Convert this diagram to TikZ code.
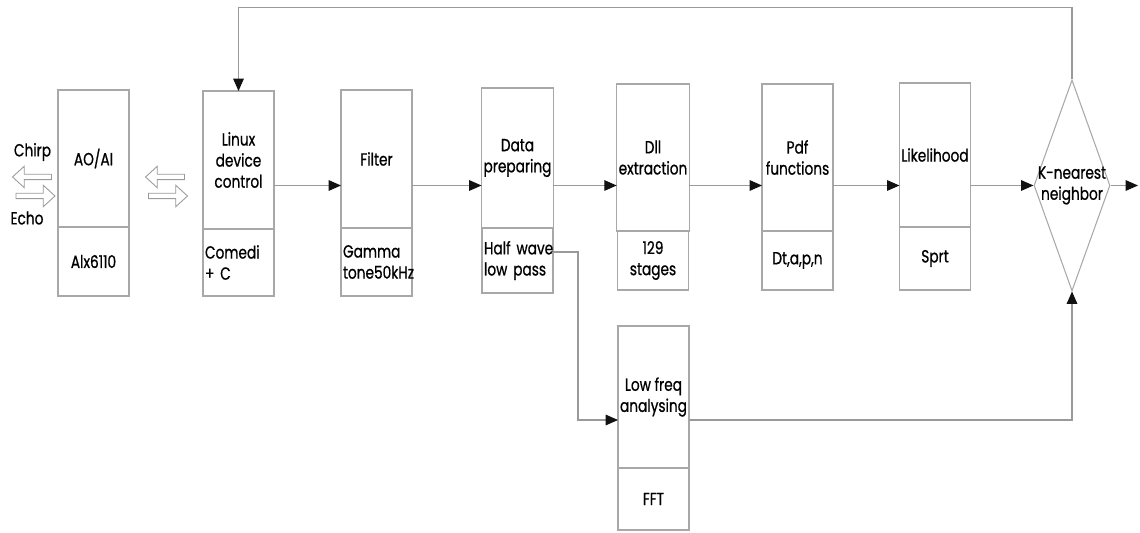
\documentclass[tikz,border=0pt]{standalone}
\usepackage{fontspec}
\setsansfont[FakeStretch=0.78, FakeBold=0.8]{Poppins}
\usetikzlibrary{arrows.meta, positioning, shapes.geometric, shapes.arrows}
\definecolor{framegray}{HTML}{A8A8A8}
\definecolor{wiregray}{HTML}{9A9A9A}
\definecolor{tipblack}{HTML}{111111}

\begin{document}
\begin{tikzpicture}[
    font=\sffamily\fontsize{10}{12}\selectfont,
    >={Triangle[length=7pt, width=6pt, color=tipblack]},
    % ── shared styles ──
    block/.style={draw=framegray, line width=0.6pt, outer sep=0pt,
        minimum width=1.42cm, minimum height=#1, inner xsep=0.04cm,
        align=center, anchor=north},
    subblock/.style={draw=framegray, line width=0.6pt, outer sep=0pt,
        minimum width=1.42cm, minimum height=#1, inner xsep=0.04cm,
        text width=1.34cm, align=center},
    decision/.style={diamond, draw=framegray, line width=0.6pt,
        minimum width=1.52cm, minimum height=4.22cm, inner sep=0pt},
    flow/.style={->, draw=wiregray, line width=0.6pt},
    hollow/.style={single arrow, draw=wiregray, line width=0.5pt,
        minimum height=0.78cm, inner sep=0.045cm,
        single arrow head extend=0.16cm, single arrow tip angle=85},
]
\useasboundingbox (0,0) rectangle (22.8,-10.66);

% ══════════════════════════════════════════════════════════════════════
%  BLOCKS (upper part + lower part)
% ══════════════════════════════════════════════════════════════════════
\node[block=2.74cm] (aoai) at (1.87,-1.80) {AO/AI};
\node[subblock=1.38cm, below=0pt of aoai] (aoaisub) {Alx6110};

\node[block=2.76cm] (linux) at (4.77,-1.82) {Linux\\device\\control};
\node[subblock=1.34cm, below=0pt of linux, align=left] (linuxsub) {Comedi\\+ C};

\node[block=2.76cm] (filt) at (7.53,-1.80) {Filter};
\node[subblock=1.36cm, below=0pt of filt, align=left] (filtsub) {Gamma\\tone50kHz};

\node[block=2.80cm] (data) at (10.35,-1.76) {Data\\preparing};
\node[subblock=1.30cm, below=0pt of data, align=left] (datasub) {Half~wave\\low~pass};

\node[block=2.94cm] (dii) at (13.06,-1.68) {Dll\\extraction};
\node[subblock=1.18cm, below=0pt of dii] (diisub) {129\\stages};

\node[block=2.94cm] (pdf) at (15.95,-1.68) {Pdf\\functions};
\node[subblock=1.18cm, below=0pt of pdf] (pdfsub) {Dt,a,p,n};

\node[block=2.88cm] (lik) at (18.70,-1.66) {Likelihood};
\node[subblock=1.26cm, below=0pt of lik] (liksub) {Sprt};

\node[block=2.84cm] (lowf) at (13.07,-6.52) {Low freq\\analysing};
\node[subblock=1.24cm, below=0pt of lowf] (lowfsub) {FFT};

\node[decision, label={[name=knnlabel, align=center]center:K-nearest\\neighbor}]
    (knn) at (21.44,-3.71) {};

% ── chirp / echo ──
\node (chirp) at (0.65,-3.04) {Chirp};
\node (echo) at (0.54,-4.36) {Echo};
\node[hollow, rotate=180] (chirpout) at (0.67,-3.54) {};
\node[hollow] (echoin) at (0.68,-3.92) {};
\node[hollow, rotate=180] (ctlout) at (3.33,-3.54) {};
\node[hollow] (ctlin) at (3.33,-3.92) {};

% ══════════════════════════════════════════════════════════════════════
%  FLOW ARROWS
% ══════════════════════════════════════════════════════════════════════
\draw[flow] (linux.east |- knn) -- (filt.west |- knn);
\draw[flow] (filt.east |- knn) -- (data.west |- knn);
\draw[flow] (data.east |- knn) -- (dii.west |- knn);
\draw[flow] (dii.east |- knn) -- (pdf.west |- knn);
\draw[flow] (pdf.east |- knn) -- (lik.west |- knn);
\draw[flow] (lik.east |- knn) -- (knn.west);
\coordinate (out) at (22.76,-3.71);
\draw[flow] (knn.east) -- (out);

\draw[flow] ([yshift=0.17cm]datasub.east) -- ++(0.5,0) |- ([yshift=-0.46cm]lowf.west);
\draw[flow] ([yshift=-0.46cm]lowf.east) -| (knn.south);

% feedback
\draw[flow] (knn.north) -- ++(0,1.44) -| (linux.north);

\end{tikzpicture}
\end{document}
